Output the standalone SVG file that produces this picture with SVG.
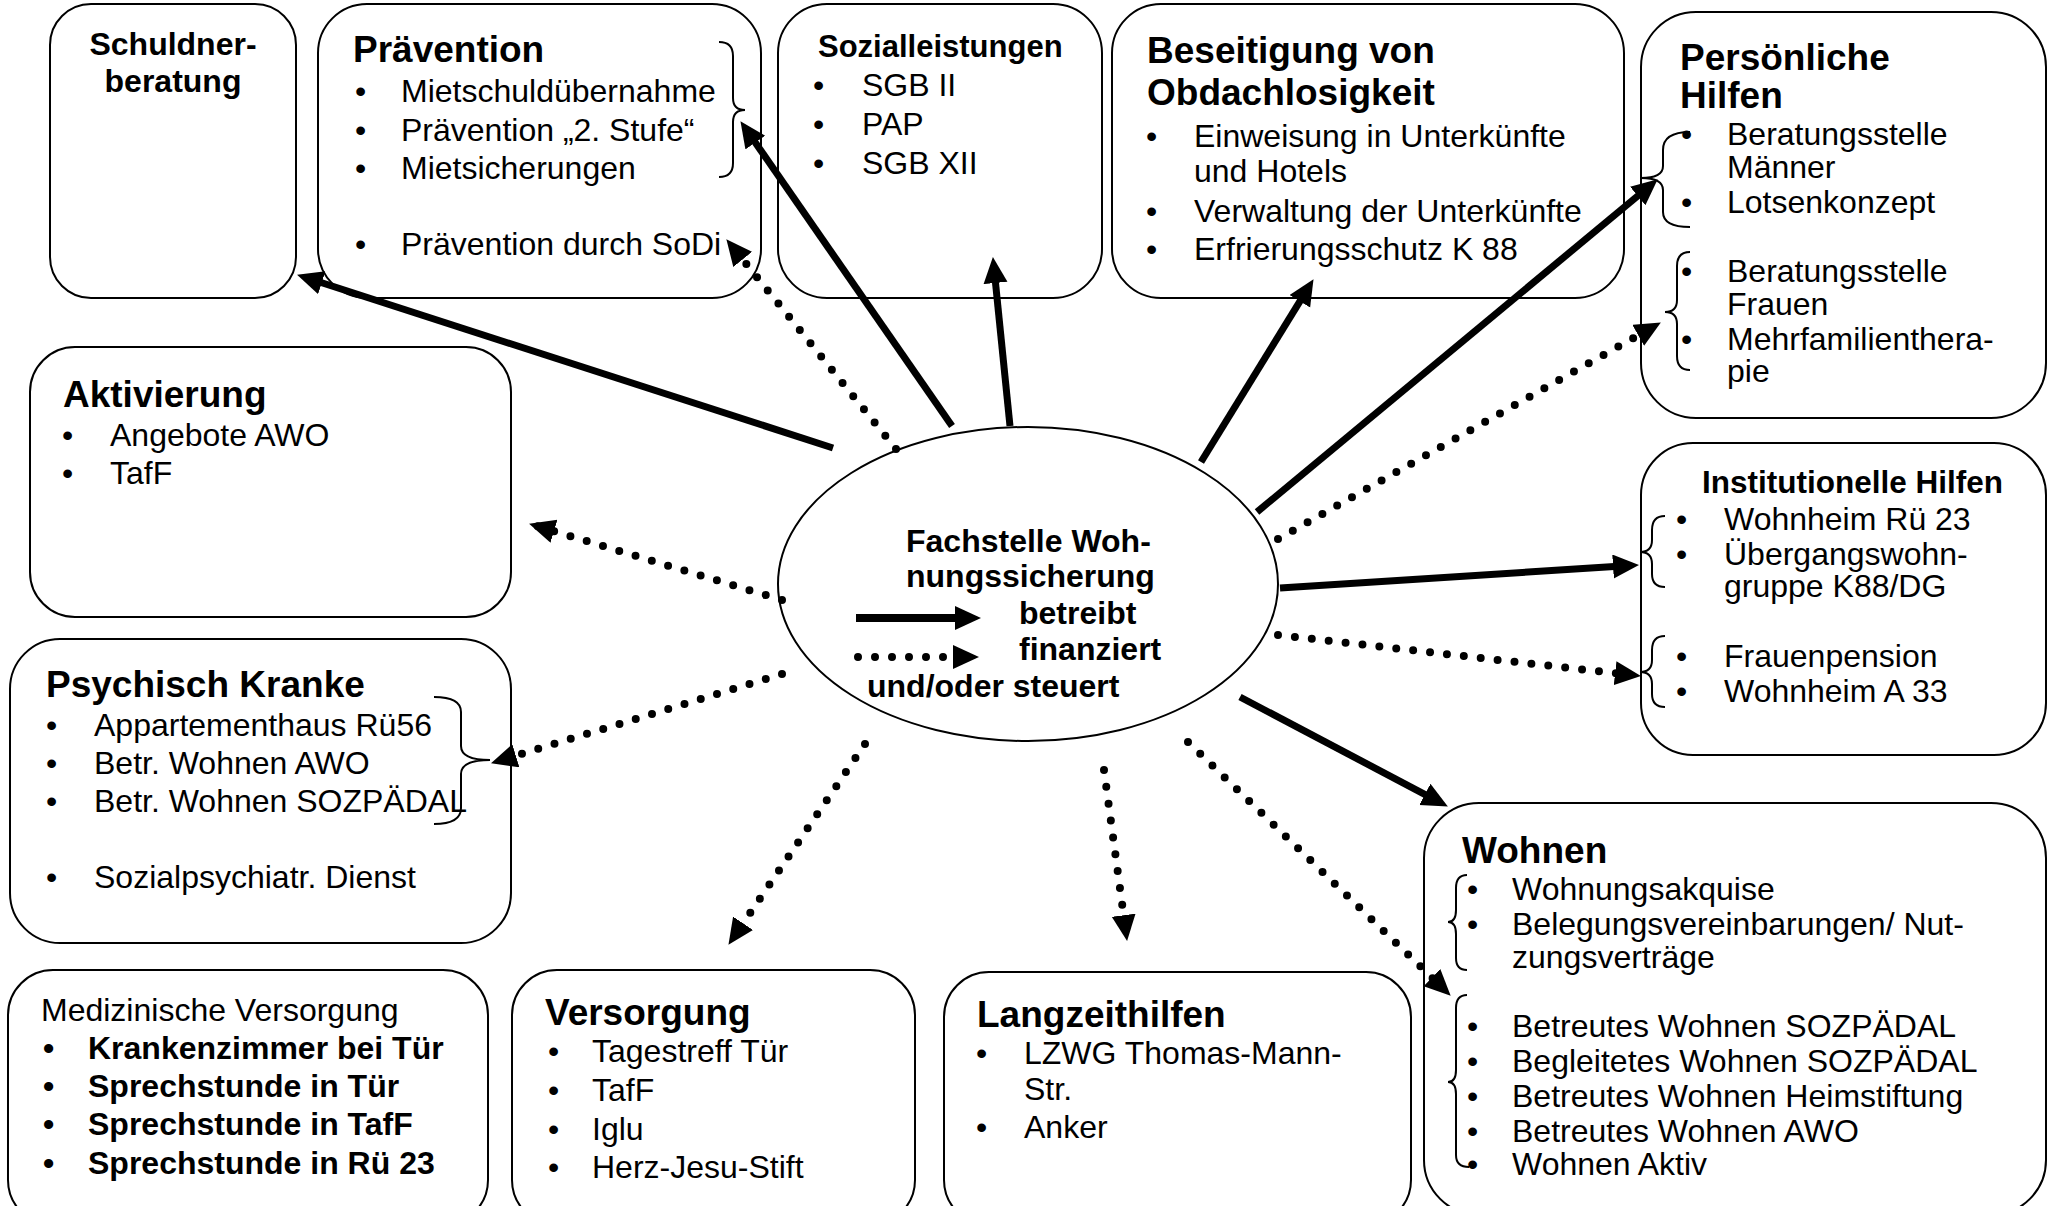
<svg xmlns="http://www.w3.org/2000/svg" width="2053" height="1206" viewBox="0 0 2053 1206">
<defs>
<style>
.box{fill:#fff;stroke:#000;stroke-width:2}
text{font-family:"Liberation Sans",Arial,sans-serif;fill:#000}
.h{font-weight:bold;font-size:37px}
.b{font-size:32px}
.bb{font-size:32px;font-weight:bold}
.solid{stroke:#000;stroke-width:7;fill:none;marker-end:url(#ah)}
.dot{stroke:#000;stroke-width:8;stroke-linecap:round;stroke-dasharray:0 17;fill:none;marker-end:url(#ah)}
.brace{fill:none;stroke:#000;stroke-width:2}
</style>
<marker id="ah" markerUnits="userSpaceOnUse" markerWidth="28" markerHeight="26" refX="17" refY="12" orient="auto">
<path d="M0,0 L26,12 L0,24 z" fill="#000"/>
</marker>
</defs>
<rect width="2053" height="1206" fill="#fff"/>

<g id="n-schuldner">
<rect class="box" x="50" y="4" width="246" height="294" rx="41"/>
<text class="bb" x="173" y="55" text-anchor="middle">Schuldner-</text>
<text class="bb" x="173" y="92" text-anchor="middle">beratung</text>
</g>

<g id="n-praevention">
<rect class="box" x="318" y="4" width="443" height="294" rx="49"/>
<text class="h" x="353" y="62">Prävention</text>
<g style="font-size:32px">
<text x="355" y="102">•</text><text x="401" y="102">Mietschuldübernahme</text>
<text x="355" y="141">•</text><text x="401" y="141">Prävention „2. Stufe“</text>
<text x="355" y="179">•</text><text x="401" y="179">Mietsicherungen</text>
<text x="355" y="255">•</text><text x="401" y="255">Prävention durch SoDi</text>
</g>
<path class="brace" d="M719,42 Q733,42 733,56 L733,98 Q733,110 745,110 Q733,110 733,122 L733,163 Q733,177 719,177"/>
</g>

<g id="n-sozial">
<rect class="box" x="778" y="4" width="324" height="294" rx="49"/>
<text x="818" y="57" style="font-weight:bold;font-size:31px">Sozialleistungen</text>
<text class="b" x="813" y="96">•</text><text class="b" x="862" y="96">SGB II</text>
<text class="b" x="813" y="135">•</text><text class="b" x="862" y="135">PAP</text>
<text class="b" x="813" y="174">•</text><text class="b" x="862" y="174">SGB XII</text>
</g>

<g id="n-beseitigung">
<rect class="box" x="1112" y="4" width="512" height="294" rx="49"/>
<text class="h" x="1147" y="63">Beseitigung von</text>
<text class="h" x="1147" y="105">Obdachlosigkeit</text>
<text class="b" x="1146" y="147">•</text><text class="b" x="1194" y="147">Einweisung in Unterkünfte</text>
<text class="b" x="1194" y="182">und Hotels</text>
<text class="b" x="1146" y="222">•</text><text class="b" x="1194" y="222">Verwaltung der Unterkünfte</text>
<text class="b" x="1146" y="260">•</text><text class="b" x="1194" y="260">Erfrierungsschutz K 88</text>
</g>

<g id="n-persoenlich">
<rect class="box" x="1641" y="12" width="405" height="406" rx="55"/>
<text class="h" x="1680" y="70">Persönliche</text>
<text class="h" x="1680" y="108">Hilfen</text>
<text class="b" x="1681" y="145">•</text><text class="b" x="1727" y="145">Beratungsstelle</text>
<text class="b" x="1727" y="178">Männer</text>
<text class="b" x="1681" y="213">•</text><text class="b" x="1727" y="213">Lotsenkonzept</text>
<text class="b" x="1681" y="282">•</text><text class="b" x="1727" y="282">Beratungsstelle</text>
<text class="b" x="1727" y="315">Frauen</text>
<text class="b" x="1681" y="350">•</text><text class="b" x="1727" y="350">Mehrfamilienthera-</text>
<text class="b" x="1727" y="382">pie</text>
<path class="brace" d="M1690,132 Q1663,132 1663,150 L1663,166 Q1663,178 1641,178 Q1663,178 1663,190 L1663,212 Q1663,227 1690,227"/>
<path class="brace" d="M1690,252 Q1677,252 1677,266 L1677,300 Q1677,312 1665,312 Q1677,312 1677,324 L1677,356 Q1677,370 1690,370"/>
</g>

<g id="n-aktivierung">
<rect class="box" x="30" y="347" width="481" height="270" rx="45"/>
<text class="h" x="63" y="407">Aktivierung</text>
<text class="b" x="62" y="446">•</text><text class="b" x="110" y="446">Angebote AWO</text>
<text class="b" x="62" y="484">•</text><text class="b" x="110" y="484">TafF</text>
</g>

<g id="n-psychisch">
<rect class="box" x="10" y="639" width="501" height="304" rx="50"/>
<text class="h" x="46" y="697">Psychisch Kranke</text>
<g style="font-size:32px">
<text x="46" y="736">•</text><text x="94" y="736">Appartementhaus Rü56</text>
<text x="46" y="774">•</text><text x="94" y="774">Betr. Wohnen AWO</text>
<text x="46" y="812">•</text><text x="94" y="812">Betr. Wohnen SOZPÄDAL</text>
<text x="46" y="888">•</text><text x="94" y="888">Sozialpsychiatr. Dienst</text>
</g>
<path class="brace" d="M434,697 Q461,697 461,712 L461,746 Q461,760 490,760 Q461,760 461,774 L461,808 Q461,824 434,824"/>
</g>

<g id="n-institutionell">
<rect class="box" x="1641" y="443" width="405" height="312" rx="52"/>
<text x="1702" y="493" style="font-weight:bold;font-size:31.5px">Institutionelle Hilfen</text>
<text class="b" x="1676" y="530">•</text><text class="b" x="1724" y="530">Wohnheim Rü 23</text>
<text class="b" x="1676" y="565">•</text><text class="b" x="1724" y="565">Übergangswohn-</text>
<text class="b" x="1724" y="597">gruppe K88/DG</text>
<text class="b" x="1676" y="667">•</text><text class="b" x="1724" y="667">Frauenpension</text>
<text class="b" x="1676" y="702">•</text><text class="b" x="1724" y="702">Wohnheim A 33</text>
<path class="brace" d="M1665,516 Q1652,516 1652,530 L1652,540 Q1652,552 1640,552 Q1652,552 1652,564 L1652,574 Q1652,587 1665,587"/>
<path class="brace" d="M1665,636 Q1652,636 1652,650 L1652,660 Q1652,672 1640,672 Q1652,672 1652,684 L1652,694 Q1652,707 1665,707"/>
</g>

<g id="n-wohnen">
<rect class="box" x="1424" y="803" width="622" height="412" rx="55"/>
<text class="h" x="1462" y="863">Wohnen</text>
<text class="b" x="1467" y="900">•</text><text class="b" x="1512" y="900">Wohnungsakquise</text>
<text class="b" x="1467" y="935">•</text><text class="b" x="1512" y="935">Belegungsvereinbarungen/ Nut-</text>
<text class="b" x="1512" y="968">zungsverträge</text>
<text class="b" x="1467" y="1037">•</text><text class="b" x="1512" y="1037">Betreutes Wohnen SOZPÄDAL</text>
<text class="b" x="1467" y="1072">•</text><text class="b" x="1512" y="1072">Begleitetes Wohnen SOZPÄDAL</text>
<text class="b" x="1467" y="1107">•</text><text class="b" x="1512" y="1107">Betreutes Wohnen Heimstiftung</text>
<text class="b" x="1467" y="1142">•</text><text class="b" x="1512" y="1142">Betreutes Wohnen AWO</text>
<text class="b" x="1467" y="1175">•</text><text class="b" x="1512" y="1175">Wohnen Aktiv</text>
<path class="brace" d="M1467,875 Q1456,875 1456,888 L1456,910 Q1456,922 1448,922 Q1456,922 1456,934 L1456,958 Q1456,970 1467,970"/>
<path class="brace" d="M1467,995 Q1456,995 1456,1008 L1456,1070 Q1456,1082 1448,1082 Q1456,1082 1456,1094 L1456,1155 Q1456,1167 1469,1167"/>
</g>

<g id="n-medizin">
<rect class="box" x="8" y="970" width="480" height="255" rx="45"/>
<text class="b" x="41" y="1021">Medizinische Versorgung</text>
<text class="bb" x="43" y="1059">•</text><text class="bb" x="88" y="1059">Krankenzimmer bei Tür</text>
<text class="bb" x="43" y="1097">•</text><text class="bb" x="88" y="1097">Sprechstunde in Tür</text>
<text class="bb" x="43" y="1135">•</text><text class="bb" x="88" y="1135">Sprechstunde in TafF</text>
<text class="bb" x="43" y="1174">•</text><text class="bb" x="88" y="1174">Sprechstunde in Rü 23</text>
</g>

<g id="n-versorgung">
<rect class="box" x="512" y="970" width="403" height="255" rx="45"/>
<text class="h" x="545" y="1025">Versorgung</text>
<text class="b" x="548" y="1062">•</text><text class="b" x="592" y="1062">Tagestreff Tür</text>
<text class="b" x="548" y="1101">•</text><text class="b" x="592" y="1101">TafF</text>
<text class="b" x="548" y="1140">•</text><text class="b" x="592" y="1140">Iglu</text>
<text class="b" x="548" y="1178">•</text><text class="b" x="592" y="1178">Herz-Jesu-Stift</text>
</g>

<g id="n-langzeit">
<rect class="box" x="944" y="972" width="467" height="253" rx="45"/>
<text class="h" x="977" y="1027">Langzeithilfen</text>
<text class="b" x="976" y="1064">•</text><text class="b" x="1024" y="1064">LZWG Thomas-Mann-</text>
<text class="b" x="1024" y="1100">Str.</text>
<text class="b" x="976" y="1138">•</text><text class="b" x="1024" y="1138">Anker</text>
</g>

<g id="n-fachstelle">
<ellipse cx="1028" cy="584" rx="250" ry="157" fill="#fff" stroke="#000" stroke-width="2"/>
<text class="bb" x="906" y="552">Fachstelle Woh-</text>
<text class="bb" x="906" y="587">nungssicherung</text>
<text class="bb" x="1019" y="624">betreibt</text>
<text class="bb" x="1019" y="660">finanziert</text>
<text class="bb" x="867" y="697">und/oder steuert</text>
<line x1="856" y1="618" x2="972" y2="618" stroke="#000" stroke-width="8" marker-end="url(#ah)"/>
<line x1="858" y1="657" x2="970" y2="657" class="dot"/>
</g>

<g id="connectors">
<line class="solid" x1="833" y1="448" x2="305.6" y2="277.5"/>
<line class="solid" x1="952" y1="426" x2="745.6" y2="128.6"/>
<line class="solid" x1="1010" y1="426" x2="993.8" y2="266"/>
<line class="solid" x1="1201" y1="462" x2="1308.8" y2="286.8"/>
<line class="solid" x1="1257" y1="512" x2="1650.8" y2="185.1"/>
<line class="solid" x1="1280" y1="588" x2="1630" y2="565.5"/>
<line class="solid" x1="1240" y1="697" x2="1439.9" y2="802.3"/>
<line class="dot" x1="896" y1="449" x2="732" y2="246.2"/>
<line class="dot" x1="782" y1="600" x2="537.7" y2="526.3"/>
<line class="dot" x1="782" y1="674" x2="499.6" y2="760.7"/>
<line class="dot" x1="865" y1="744" x2="733.5" y2="937.4"/>
<line class="dot" x1="1104" y1="770" x2="1125.9" y2="932.1"/>
<line class="dot" x1="1188" y1="742" x2="1444.2" y2="989.4"/>
<line class="dot" x1="1278" y1="635" x2="1632" y2="675.1"/>
<line class="dot" x1="1278" y1="539" x2="1653" y2="326.9"/>
</g>
</svg>
